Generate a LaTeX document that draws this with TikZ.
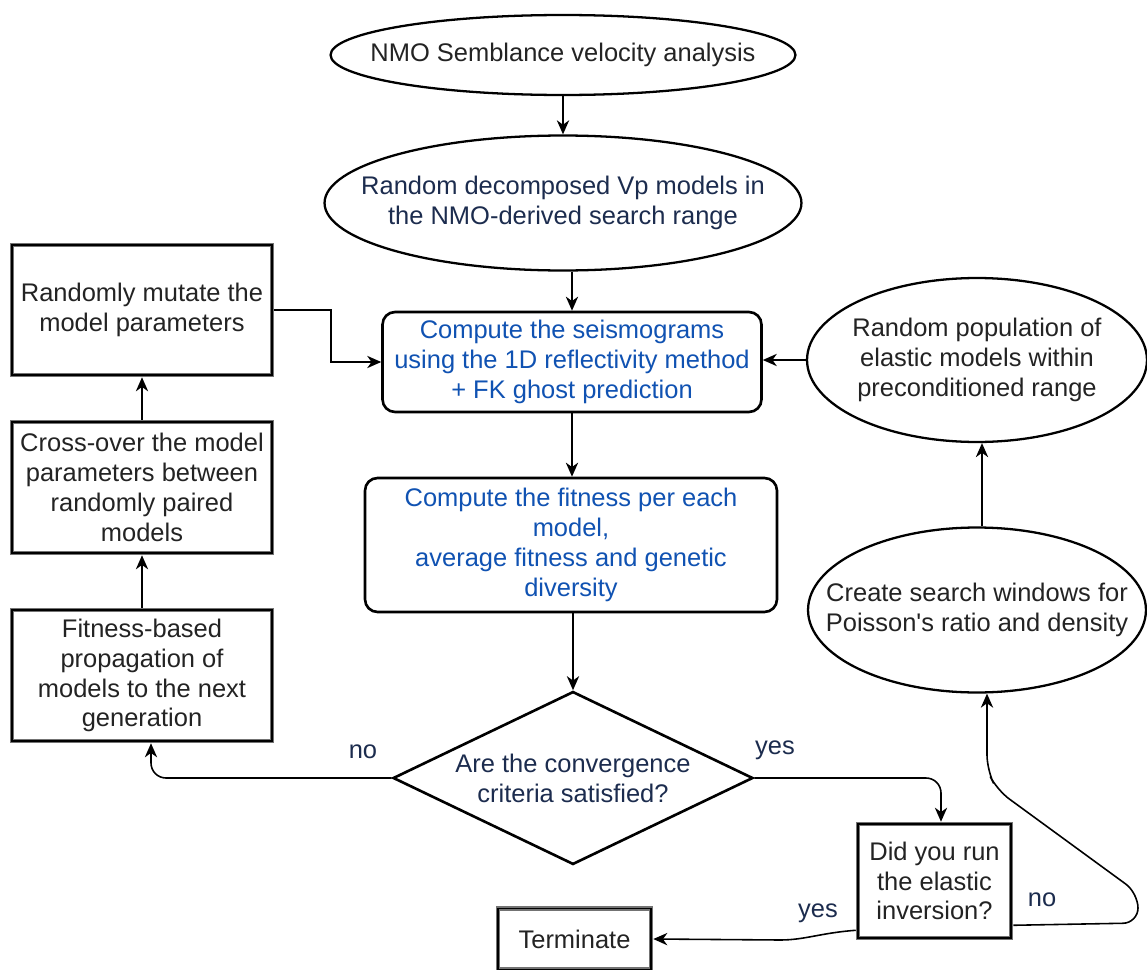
\documentclass[tikz,border=0pt]{standalone}
\usepackage{fontspec}
\setmainfont{Liberation Sans}
\usetikzlibrary{shapes.geometric,arrows.meta,calc}
\definecolor{blueT}{RGB}{16,82,178}
\definecolor{navyT}{RGB}{28,44,78}
\definecolor{darkT}{RGB}{35,35,35}
\begin{document}
\begin{tikzpicture}[x=0.02cm,y=-0.02cm,
  font=\fontsize{14.5}{17}\selectfont,
  base/.style={align=center, inner sep=0pt, text=darkT},
  oval/.style={base, ellipse, draw=black, line width=1.3pt, inner xsep=-1.2cm},
  rbox/.style={base, rectangle, rounded corners=0.25cm, draw=black, line width=1.5pt, text=blueT},
  sqbox/.style={base, rectangle, draw=black!55, line width=2.6pt, postaction={draw=black, line width=1.1pt}},
  arr/.style={-{Stealth[length=8pt,width=7pt,inset=2.5pt]}, line width=0.9pt, draw=black},
  lbl/.style={text=navyT, inner sep=0pt}
]
\useasboundingbox (0,0) rectangle (1147,970);

% main column
\node[oval, minimum width=9.3cm, minimum height=1.6cm] (e1) at (563,55) {NMO Semblance velocity analysis};
\node[oval, minimum width=9.54cm, minimum height=2.7cm, text=navyT] (e2) at (563,203) {Random decomposed Vp models in\\the NMO-derived search range};
\node[rbox, minimum width=7.58cm, minimum height=2.0cm] (r1) at (572,362) {Compute the seismograms\\using the 1D reflectivity method\\+ FK ghost prediction};
\node[rbox, minimum width=8.24cm, minimum height=2.68cm] (r2) at (571,545) {Compute the fitness per each\\model,\\average fitness and genetic\\diversity};
\node[base, diamond, draw=black, line width=1.5pt, aspect=2.08, minimum width=7.2cm, minimum height=3.46cm, text=navyT] (d) at (573,778) {Are the convergence\\criteria satisfied?};

% left column
\node[sqbox, minimum width=5.2cm, minimum height=2.6cm] (mu) at (142,310) {Randomly mutate the\\model parameters};
\node[sqbox, minimum width=5.2cm, minimum height=2.62cm] (co) at (142,487.5) {Cross-over the model\\parameters between\\randomly paired\\models};
\node[sqbox, minimum width=5.2cm, minimum height=2.62cm] (fp) at (142,675.5) {Fitness-based\\propagation of\\models to the next\\generation};

% right column
\node[oval, minimum width=6.8cm, minimum height=3.28cm] (pop) at (977,360) {Random population of\\elastic models within\\preconditioned range};
\node[oval, minimum width=6.76cm, minimum height=3.3cm] (cr) at (977,610) {Create search windows for\\Poisson\textquotesingle s ratio and density};

% bottom
\node[sqbox, minimum width=3.06cm, minimum height=2.28cm] (dr) at (934.5,881) {Did you run\\the elastic\\inversion?};
\node[sqbox, minimum width=3.06cm, minimum height=1.22cm] (term) at (574.5,939) {Terminate};

% labels
\node[lbl] (lno1) at (363,752) {no};
\node[lbl] (lyes1) at (775,750) {yes};
\node[lbl] (lyes2) at (818,913) {yes};
\node[lbl] (lno2) at (1042,900) {no};

% connectors
\draw[arr] (e1) -- (e2);
\draw[arr] (r1.north |- e2.south) -- (r1.north);
\draw[arr] (r1.south) -- (r1.south |- r2.north);
\draw[arr] (d.north |- r2.south) -- (d.north);
\draw[arr, rounded corners=0.3cm] (d.west) -| ([xshift=0.18cm]fp.south);
\draw[arr, rounded corners=0.3cm] (d.east) -| ([xshift=0.13cm]dr.north);
\draw[arr] ([yshift=0.2cm]dr.south west) .. controls (820,933) and (805,940) .. (780,940) -- (term.east);
\draw[arr, rounded corners=0.3cm] ([yshift=0.3cm]dr.south east) -- (1138,923) -- (1138,893) -- (997,790) -- (987,770) -- ([xshift=0.2cm]cr.south);
\draw[arr] ([xshift=0.1cm]cr.north) -- ([xshift=0.1cm]pop.south);
\draw[arr] (pop.west) -- (r1.east |- pop.west);
\draw[arr] (fp) -- (co);
\draw[arr] (co) -- (mu);
\draw[arr] (mu.east) -- ++(57,0) |- (r1.west);
\end{tikzpicture}
\end{document}
